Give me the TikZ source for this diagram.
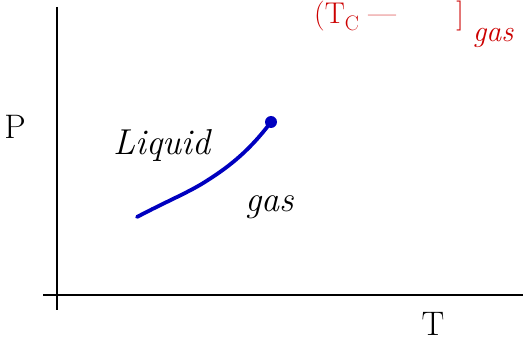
\documentclass[tikz,border=0pt]{standalone}
\usepackage{fontspec}
\begin{document}
\begin{tikzpicture}[x=1pt,y=-1pt,
  axis/.style={line width=2.4pt,black},
  lbl/.style={font=\fontsize{34}{36}\selectfont,inner sep=0pt},
  redlbl/.style={font=\fontsize{30}{32}\selectfont,text=red!80!black,inner sep=0pt},
  curve/.style={line width=3.8pt,color=blue!75!black,line cap=round}]
\useasboundingbox (0,0) rectangle (523,342);
\coordinate (ytop) at (57,7);
\coordinate (ybot) at (57,310);
\coordinate (xleft) at (43,295);
\coordinate (xright) at (523,295);
\draw[axis] (ytop) -- (ybot);
\draw[axis] (xleft) -- (xright);
\node[lbl] (P) at (15,127) {P};
\node[lbl] (T) at (433,324) {T};
\node[lbl,font=\fontsize{36}{38}\selectfont\itshape] (liq) at (162,146) {Liquid};
\node[lbl,font=\fontsize{36}{38}\selectfont\itshape] (gas) at (270,207) {gas};
\coordinate (c0) at (137,217);
\node[circle,fill=blue!75!black,minimum size=12pt,inner sep=0pt] (cp) at (271,122) {};
\draw[curve] (c0) .. controls (165,202) and (190,192) .. (208,180)
  .. controls (230,166) and (250,150) .. (cp.center);
\node[redlbl,anchor=base west] (red1) at (314,24) {(T$_{\mathrm{C}}$ ---};
\node[redlbl,anchor=base] (red2) at (460,24) {]};
\node[redlbl,font=\fontsize{30}{32}\selectfont\itshape] (red3) at (493,38) {gas};
\end{tikzpicture}
\end{document}
